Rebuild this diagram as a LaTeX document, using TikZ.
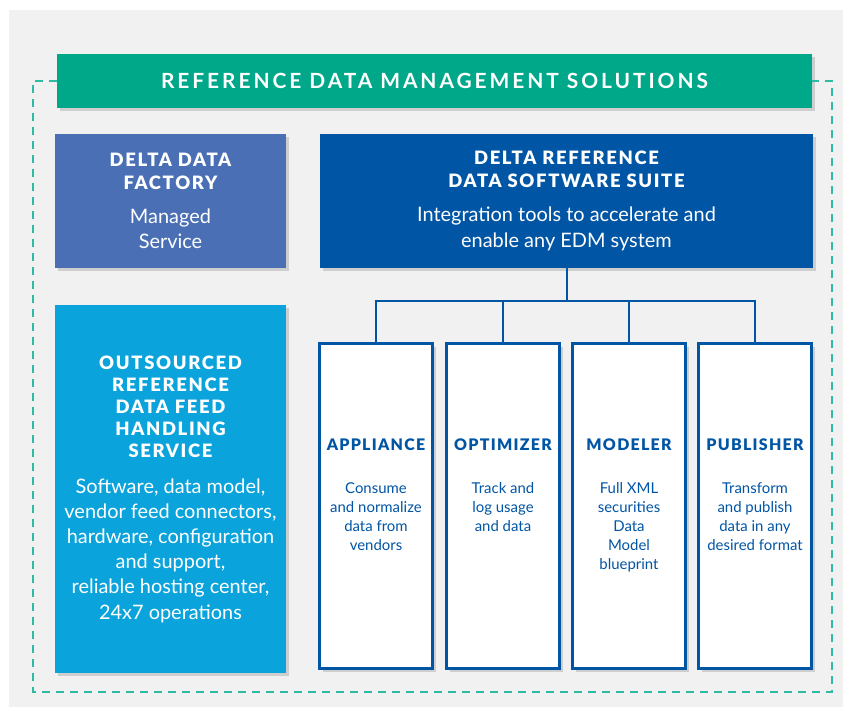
\documentclass[tikz,border=0pt]{standalone}
\usepackage{fontspec}
\setmainfont{Lato}
\newfontfamily\capsfont[LetterSpace=14.0]{Lato}
\newfontfamily\heavyfont[LetterSpace=9.0]{Lato Black}
\newfontfamily\modfont[LetterSpace=8.0]{Lato Black}
\usetikzlibrary{shadows}
\definecolor{bggray}{HTML}{F1F1F1}
\definecolor{rdmteal}{HTML}{00A88A}
\definecolor{dashteal}{HTML}{2EBBA3}
\definecolor{factoryblue}{HTML}{4A6FB5}
\definecolor{suiteblue}{HTML}{0055A5}
\definecolor{feedblue}{HTML}{0AA3DB}
\newcommand{\boxhead}[1]{{\heavyfont\fontsize{18.5}{23}\selectfont #1}}
\newcommand{\modhead}[1]{{\modfont\fontsize{16}{19}\selectfont #1}}
\tikzset{
  shade box/.style={drop shadow={shadow xshift=3bp, shadow yshift=-3bp, opacity=0.3}},
  solid box/.style={shade box, draw=none, text=white, align=center, inner sep=0pt,
    font=\fontsize{20}{26}\selectfont},
  module/.style={shade box, draw=suiteblue, line width=3bp, fill=white,
    minimum width=113bp, minimum height=325bp, inner sep=0pt},
  module text/.style={text=suiteblue, align=center, anchor=north, inner sep=0pt,
    font=\fontsize{15}{19}\selectfont},
  link/.style={draw=suiteblue, line width=2bp},
  frame/.style={draw=dashteal, line width=2bp, dash pattern=on 8bp off 6bp},
}
\begin{document}
\begin{tikzpicture}[x=1bp, y=-1bp]
\useasboundingbox (0,0) rectangle (843,707);
\fill[bggray] (9,10) rectangle (843,707);
\node[solid box, fill=rdmteal, minimum width=755bp, minimum height=54bp,
  font=\capsfont\bfseries\fontsize{21}{24}\selectfont] (title) at (434.5,81)
  {REFERENCE DATA MANAGEMENT SOLUTIONS};
\draw[frame] (title.west) -| (33,692) -| ([xshift=20bp]title.east) -- (title.east);
\node[solid box, fill=factoryblue, minimum width=231bp, minimum height=134bp] (factory)
  at (170.5,201) {\boxhead{DELTA DATA}\\[-3bp]\boxhead{FACTORY}\\[8bp]Managed\\Service};
\node[solid box, fill=suiteblue, minimum width=493bp, minimum height=134bp] (suite)
  at (566.5,201) {\boxhead{DELTA REFERENCE}\\[-3bp]\boxhead{DATA SOFTWARE SUITE}\\[8bp]%
  Integration tools to accelerate and\\enable any EDM system};
\node[solid box, fill=feedblue, minimum width=231bp, minimum height=367bp,
  font=\fontsize{20}{25.3}\selectfont] (feed)
  at (170.5,489) {\boxhead{OUTSOURCED}\\[-3bp]\boxhead{REFERENCE}\\[-3bp]\boxhead{DATA FEED}\\[-3bp]
  \boxhead{HANDLING}\\[-3bp]\boxhead{SERVICE}\\[10bp]Software, data model,\\
  vendor feed connectors,\\hardware, configuration\\and support,\\
  reliable hosting center,\\24x7 operations};
% the four modules of the suite
\node[module] (appliance) at (376,506) {};
\node[module] (optimizer) at (503,506) {};
\node[module] (modeler) at (629,506) {};
\node[module] (publisher) at (755,506) {};
\node[module text] (appliance text) at (376,439) {\modhead{APPLIANCE}\\[24bp]Consume\\and normalize\\data from\\vendors};
\node[module text] (optimizer text) at (503,439) {\modhead{OPTIMIZER}\\[24bp]Track and\\log usage\\and data};
\node[module text] (modeler text) at (629,439) {\modhead{MODELER}\\[24bp]Full XML\\securities\\Data\\Model\\blueprint};
\node[module text] (publisher text) at (755,439) {\modhead{PUBLISHER}\\[24bp]Transform\\and publish\\data in any\\desired format};
\path (suite.south) ++(0,33) coordinate (bus);
\draw[link] (suite.south) -- (bus);
\foreach \m in {appliance,optimizer,modeler,publisher}
  \draw[link] (bus) -| (\m.north);
\end{tikzpicture}
\end{document}
